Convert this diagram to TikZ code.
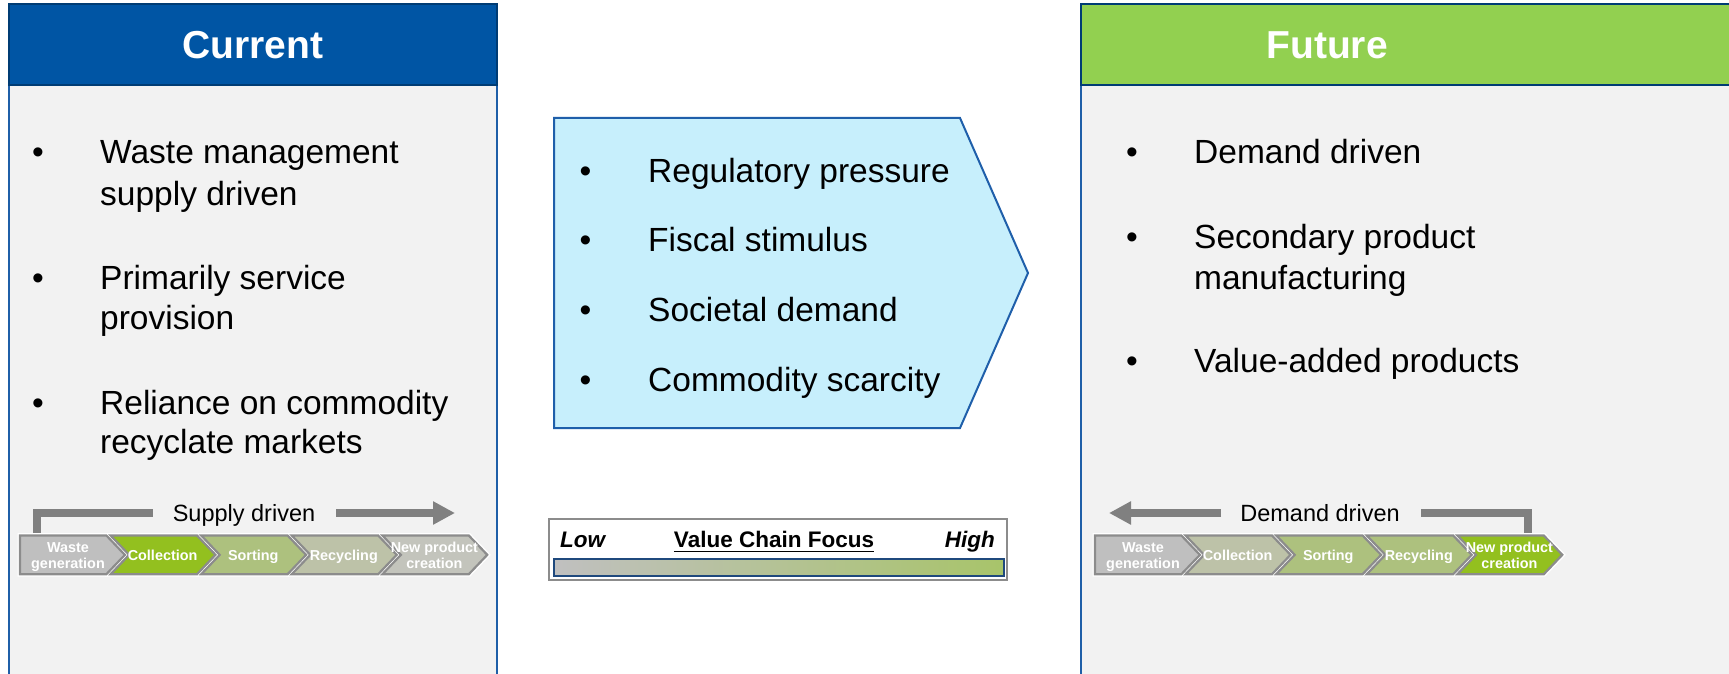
\documentclass[tikz,border=0pt]{standalone}
\usepackage{fontspec}
\setmainfont{Liberation Sans}
\usetikzlibrary{arrows.meta}
\definecolor{hdrblue}{HTML}{0055A4}
\definecolor{navy}{HTML}{003C74}
\definecolor{sideblue}{HTML}{1F5FA8}
\definecolor{panelbg}{HTML}{F2F2F2}
\definecolor{hdrgreen}{HTML}{92D050}
\definecolor{cyanfill}{HTML}{C7EFFC}
\definecolor{cyanline}{HTML}{1F5FAA}
\definecolor{arrowgray}{HTML}{808080}
\definecolor{chevgray}{HTML}{BFBFBF}
\definecolor{chevgreen}{HTML}{93C01F}
\definecolor{chevsort}{HTML}{ADC17E}
\definecolor{chevrec}{HTML}{BDC2A8}
\definecolor{chevnew}{HTML}{C3C4BC}
\definecolor{chevline}{HTML}{8C8C8C}
\definecolor{barnavy}{HTML}{1F497D}
\definecolor{barleft}{HTML}{C0C0C0}
\definecolor{barright}{HTML}{A8C46A}
\begin{document}
\begin{tikzpicture}[x=1pt,y=-1pt,
  bodytxt/.style={font=\fontsize{33.5}{40}\selectfont, anchor=base west, inner sep=0pt},
  bul/.style={font=\fontsize{33.5}{40}\selectfont, anchor=base, inner sep=0pt},
  titletxt/.style={font=\bfseries\fontsize{39}{45}\selectfont, text=white, anchor=base, inner sep=0pt},
  chevtxt/.style={font=\bfseries\fontsize{14.4}{16}\selectfont, text=white, anchor=base, inner sep=0pt},
  drivetxt/.style={font=\fontsize{23.5}{28}\selectfont, anchor=base, inner sep=0pt},
  bartxt/.style={font=\bfseries\fontsize{22.5}{26}\selectfont, inner sep=0pt},
  grayarrow/.style={draw=arrowgray, line width=7.5pt, line join=miter},
  halo/.style={draw=white, line width=5pt, line join=miter},
  chevstroke/.style={draw=chevline, line width=2.2pt, line join=miter}
]
\useasboundingbox (0,0) rectangle (1729,674);
\clip (0,0) rectangle (1729,674);
\fill[white] (0,0) rectangle (1729,674);

% ---------- left panel ----------
\fill[panelbg] (9,85) rectangle (497,690);
\draw[sideblue, line width=2.5pt] (9,85) -- (9,690) (497,85) -- (497,690);
\draw[fill=hdrblue, draw=navy, line width=2.5pt] (9,4) rectangle (497,85);
\node[titletxt] (tcur) at (253,59) {Current};

% ---------- right panel ----------
\fill[panelbg] (1081,85) rectangle (1740,690);
\draw[sideblue, line width=2.5pt] (1081,85) -- (1081,690);
\draw[fill=hdrgreen, draw=navy, line width=2.5pt] (1081,4) rectangle (1740,85);
\node[titletxt] (tfut) at (1327,59) {Future};

% ---------- left bullets ----------
\node[bul] (lb1) at (38,164) {•};
\node[bodytxt] (l1a) at (100,164) {Waste management};
\node[bodytxt] (l1b) at (100,205) {supply driven};
\node[bul] (lb2) at (38,289) {•};
\node[bodytxt] (l2a) at (100,289) {Primarily service};
\node[bodytxt] (l2b) at (100,329) {provision};
\node[bul] (lb3) at (38,414) {•};
\node[bodytxt] (l3a) at (100,414) {Reliance on commodity};
\node[bodytxt] (l3b) at (100,453) {recyclate markets};

% ---------- centre pentagon ----------
\draw[fill=cyanfill, draw=cyanline, line width=2pt, line join=miter]
  (554,118) -- (960,118) -- (1028,273) -- (960,428) -- (554,428) -- cycle;
\node[bul] (cb1) at (585.5,182) {•};
\node[bodytxt] (c1) at (648,182) {Regulatory pressure};
\node[bul] (cb2) at (585.5,251.5) {•};
\node[bodytxt] (c2) at (648,251.5) {Fiscal stimulus};
\node[bul] (cb3) at (585.5,321) {•};
\node[bodytxt] (c3) at (648,321) {Societal demand};
\node[bul] (cb4) at (585.5,391) {•};
\node[bodytxt] (c4) at (648,391) {Commodity scarcity};

% ---------- right bullets ----------
\node[bul] (rb1) at (1132,163.6) {•};
\node[bodytxt] (r1) at (1194,163.6) {Demand driven};
\node[bul] (rb2) at (1132,248) {•};
\node[bodytxt] (r2a) at (1194,248) {Secondary product};
\node[bodytxt] (r2b) at (1194,289) {manufacturing};
\node[bul] (rb3) at (1132,372.7) {•};
\node[bodytxt] (r3) at (1194,372.7) {Value-added products};

% ---------- value chain focus bar ----------
\draw[draw=chevline, line width=2pt, fill=white] (549,519) rectangle (1007,580);
\shade[left color=barleft, right color=barright] (553.6,559) rectangle (1003.6,576.4);
\draw[barnavy, line width=2pt] (553.6,559) rectangle (1003.6,576.4);
\node[bartxt, anchor=base west] (vlow) at (560,547) {\itshape Low};
\node[bartxt, anchor=base] (vcf) at (774,547) {Value Chain Focus};
\draw[line width=1.8pt] ([yshift=-4.5pt]vcf.base west) -- ([yshift=-4.5pt]vcf.base east);
\node[bartxt, anchor=base east] (vhigh) at (995,547) {\itshape High};

% ---------- supply driven bracket ----------
\coordinate (sa) at (37,539);
\coordinate (sb) at (37,513);
\coordinate (sc) at (153,513);
\coordinate (sd) at (336,513);
\coordinate (se) at (455,513);
\draw[grayarrow] (sa) -- (sb) -- (sc);
\draw[grayarrow, -{Triangle[length=22pt,width=22pt]}] (sd) -- (se);
\node[drivetxt] (sup) at (244,521) {Supply driven};

% ---------- demand driven bracket ----------
\coordinate (da) at (1528,539);
\coordinate (db) at (1528,513);
\coordinate (dc) at (1421,513);
\coordinate (dd) at (1221,513);
\coordinate (de) at (1109,513);
\draw[grayarrow] (da) -- (db) -- (dc);
\draw[grayarrow, -{Triangle[length=22pt,width=22pt]}] (dd) -- (de);
\node[drivetxt] (dem) at (1320,521) {Demand driven};

% ---------- chevron rows ----------
% halos
\foreach \x in {20,1095}
  \draw[halo] (\x,535.5) -- ++(86.4,0) -- ++(18.5,19.35) -- ++(-18.5,19.35) -- ++(-86.4,0) -- cycle;
\foreach \x in {110.6,201.2,291.8,382.4,1185.6,1276.2,1366.8,1457.4}
  \draw[halo] (\x,535.5) -- ++(86.4,0) -- ++(18.5,19.35) -- ++(-18.5,19.35) -- ++(-86.4,0) -- ++(18.5,-19.35) -- cycle;
% fills
\foreach \x in {20,1095}
  \fill[chevgray] (\x,535.5) -- ++(86.4,0) -- ++(18.5,19.35) -- ++(-18.5,19.35) -- ++(-86.4,0) -- cycle;
\foreach \x/\col in {110.6/chevgreen,201.2/chevsort,291.8/chevrec,382.4/chevnew,1185.6/chevrec,1276.2/chevsort,1366.8/chevsort,1457.4/chevgreen}
  \fill[\col] (\x,535.5) -- ++(86.4,0) -- ++(18.5,19.35) -- ++(-18.5,19.35) -- ++(-86.4,0) -- ++(18.5,-19.35) -- cycle;
% strokes
\foreach \x in {20,1095}
  \draw[chevstroke] (\x,535.5) -- ++(86.4,0) -- ++(18.5,19.35) -- ++(-18.5,19.35) -- ++(-86.4,0) -- cycle;
\foreach \x in {110.6,201.2,291.8,382.4,1185.6,1276.2,1366.8,1457.4}
  \draw[chevstroke] (\x,535.5) -- ++(86.4,0) -- ++(18.5,19.35) -- ++(-18.5,19.35) -- ++(-86.4,0) -- ++(18.5,-19.35) -- cycle;

% chevron labels, left row
\node[chevtxt] (lwa) at (68,552.1) {Waste};
\node[chevtxt] (lwb) at (68,568.8) {generation};
\node[chevtxt] (lco) at (162.6,560.6) {Collection};
\node[chevtxt] (lso) at (253.2,560.6) {Sorting};
\node[chevtxt] (lre) at (343.8,560.6) {Recycling};
\node[chevtxt] (lna) at (434.4,552.1) {New product};
\node[chevtxt] (lnb) at (434.4,568.8) {creation};
% chevron labels, right row
\node[chevtxt] (rwa) at (1143,552.1) {Waste};
\node[chevtxt] (rwb) at (1143,568.8) {generation};
\node[chevtxt] (rco) at (1237.6,560.6) {Collection};
\node[chevtxt] (rso) at (1328.2,560.6) {Sorting};
\node[chevtxt] (rre) at (1418.8,560.6) {Recycling};
\node[chevtxt] (rna) at (1509.4,552.1) {New product};
\node[chevtxt] (rnb) at (1509.4,568.8) {creation};
\end{tikzpicture}
\end{document}
